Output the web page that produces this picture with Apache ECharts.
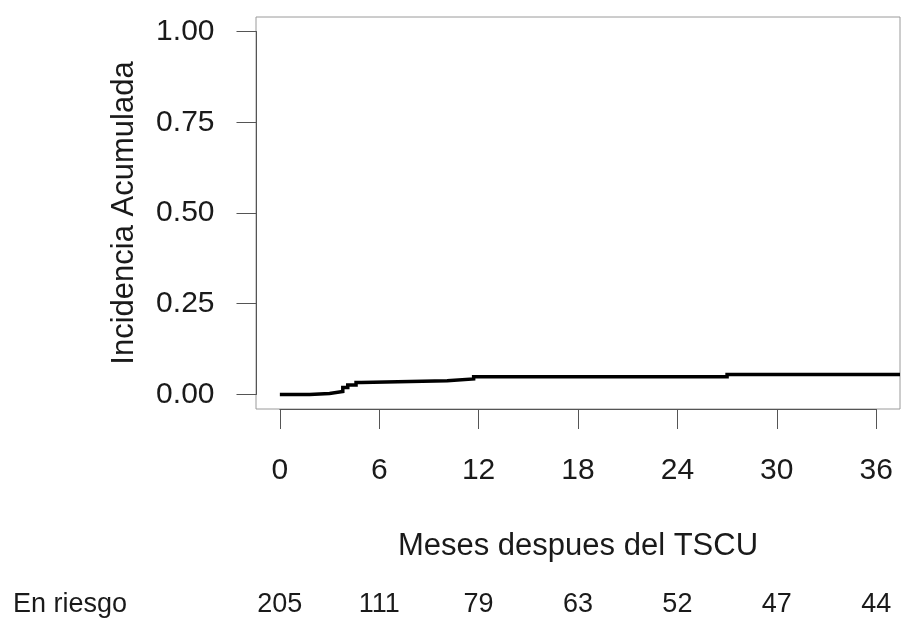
<!DOCTYPE html>
<html>
<head>
<meta charset="utf-8">
<script src="https://cdn.jsdelivr.net/npm/echarts@6/dist/echarts.min.js"></script>
<style>
    html, body { margin: 0; padding: 0; background: #fff; }
    #chart { width: 901px; height: 621px; }
</style>
</head>
<body>
<div id="chart"></div>
<script>
//datos de la curva (incidencia acumulada, escalones)
var months = [0, 1.8, 3.0, 3.8, 4.1, 4.6, 4.9, 10.1, 11.7, 27.0, 37.44];
var incidence = [0, 0.003, 0.008, 0.019, 0.026, 0.033, 0.038, 0.043, 0.049, 0.055, 0.055];

//tabla de riesgo
var riskMonths = [0, 6, 12, 18, 24, 30, 36];
var atRisk = [205, 111, 79, 63, 52, 47, 44];

var xTitle = 'Meses despues del TSCU';
var yTitle = 'Incidencia Acumulada';
var riskTitle = 'En riesgo';

var font = 'Liberation Sans, Arial, Helvetica, sans-serif',
    textColor = '#1a1a1a',
    axisColor = '#555',
    plot = { left: 256, top: 17, width: 644, height: 392, xmin: -1.44, xmax: 37.44, ymin: -0.04, ymax: 1.04 };

//pixeles por unidad
var pxX = plot.width / (plot.xmax - plot.xmin),
    pxY = plot.height / (plot.ymax - plot.ymin);
var axisLeft = plot.left + (0 - plot.xmin) * pxX,
    axisWidth = 36 * pxX,
    yAxisTop = plot.top + (plot.ymax - 1) * pxY,
    yAxisHeight = pxY;

var hidden = { show: false };

//escalones: el valor se mantiene hasta el siguiente evento
function stepData() {
    var out = [[months[0], incidence[0]]];
    for (var i = 1; i < months.length; i++) {
        out.push([months[i], incidence[i - 1]]);
        out.push([months[i], incidence[i]]);
    }
    return out;
}

var option = {
    animation: false,
    backgroundColor: '#fff',
    textStyle: { fontFamily: font, color: textColor },
    grid: [
        { left: plot.left, top: plot.top, width: plot.width, height: plot.height, show: true, borderColor: '#9a9a9a', borderWidth: 1 },
        { left: axisLeft, top: plot.top + plot.height - 1, width: axisWidth, height: 1 },
        { left: plot.left + 0.5, top: yAxisTop, width: 10, height: yAxisHeight },
        { left: axisLeft, top: 591, width: axisWidth, height: 28 }
    ],
    xAxis: [
        { gridIndex: 0, type: 'value', min: plot.xmin, max: plot.xmax, show: false },
        {
            gridIndex: 1, type: 'value', min: 0, max: 36, interval: 6,
            axisLine: { show: true, lineStyle: { color: axisColor, width: 1 } },
            axisTick: { show: true, length: 20, lineStyle: { color: axisColor } },
            axisLabel: { margin: 47, fontSize: 30, color: textColor, fontFamily: font },
            splitLine: hidden,
            name: xTitle, nameLocation: 'middle', nameGap: 122,
            nameTextStyle: { fontSize: 31, color: textColor, fontFamily: font }
        },
        { gridIndex: 2, type: 'value', show: false },
        { gridIndex: 3, type: 'value', min: 0, max: 36, show: false }
    ],
    yAxis: [
        { gridIndex: 0, type: 'value', min: plot.ymin, max: plot.ymax, show: false },
        { gridIndex: 1, type: 'value', show: false },
        {
            gridIndex: 2, type: 'value', min: 0, max: 1, interval: 0.25,
            axisLine: { show: true, lineStyle: { color: axisColor, width: 1 } },
            axisTick: { show: true, length: 20, lineStyle: { color: axisColor } },
            axisLabel: {
                margin: 42, fontSize: 30, color: textColor, fontFamily: font,
                formatter: function (v) { return v.toFixed(2); }
            },
            splitLine: hidden,
            name: yTitle, nameLocation: 'middle', nameRotate: 90, nameGap: 117,
            nameTextStyle: { fontSize: 31, color: textColor, fontFamily: font }
        },
        { gridIndex: 3, type: 'value', min: 0, max: 1, show: false }
    ],
    graphic: [{
        type: 'text', left: 13, top: 591,
        style: { text: riskTitle, fontSize: 27, fontFamily: font, fill: textColor }
    }],
    series: [
        {
            type: 'line', xAxisIndex: 0, yAxisIndex: 0, symbol: 'none', clip: true,
            lineStyle: { color: '#000', width: 3.5, join: 'miter' },
            data: stepData()
        },
        {
            type: 'scatter', xAxisIndex: 3, yAxisIndex: 3, symbolSize: 0, silent: true,
            itemStyle: { opacity: 1 },
            label: {
                show: true, position: 'inside', fontSize: 27, fontFamily: font, color: textColor, opacity: 1,
                formatter: function (p) { return p.value[2]; }
            },
            data: riskMonths.map(function (m, i) { return [m, 0.5, atRisk[i]]; })
        }
    ]
};

var chart = echarts.init(document.getElementById('chart'));
chart.setOption(option);
</script>
</body>
</html>
